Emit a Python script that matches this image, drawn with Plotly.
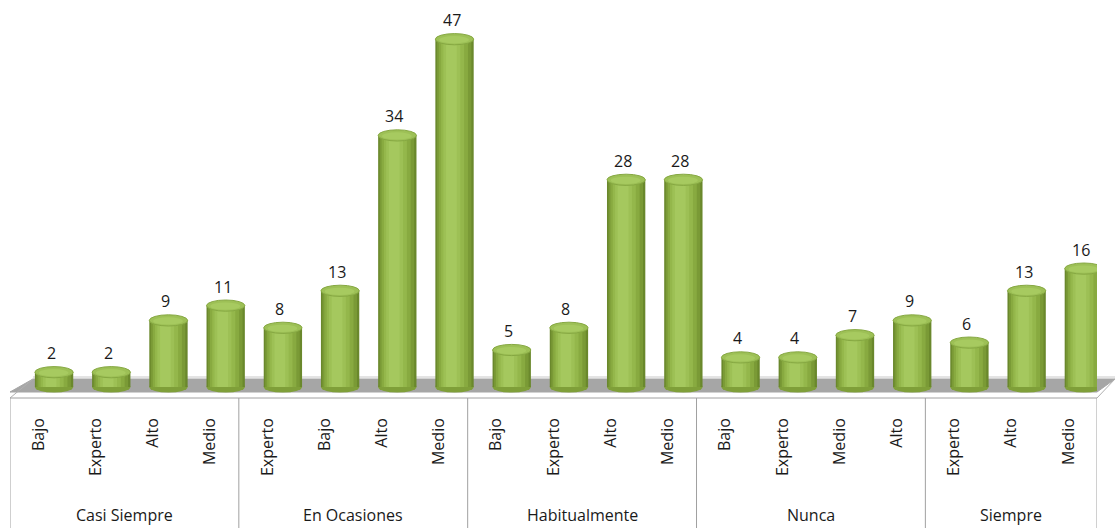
import plotly.graph_objects as go

# ---- data ----
group_names = ["Casi Siempre", "En Ocasiones", "Habitualmente", "Nunca", "Siempre"]
group_sizes = [4, 4, 4, 4, 3]
level_labels = ["Bajo", "Experto", "Alto", "Medio",
                "Experto", "Bajo", "Alto", "Medio",
                "Bajo", "Experto", "Alto", "Medio",
                "Bajo", "Experto", "Medio", "Alto",
                "Experto", "Alto", "Medio"]
values = [2, 2, 9, 11,
          8, 13, 34, 47,
          5, 8, 28, 28,
          4, 4, 7, 9,
          6, 13, 16]

# ---- geometry / style ----
W, H = 1116, 528
ML, MR, MT, MB = 10, 19, 0, 130
PX_PER_UNIT = 7.4
ZERO_PX = 387
plot_w = W - ML - MR
plot_h = H - MT - MB
plot_bottom = H - MB
y_lo = -(plot_bottom - ZERO_PX) / PX_PER_UNIT
y_hi = (ZERO_PX - MT) / PX_PER_UNIT
n = len(values)
xs = list(range(n))
BAR_SHIFT = 0.27
BAR_W = 0.67
bx = [x + BAR_SHIFT for x in xs]
FONT = "Open Sans"
TXT = "#1a1a1a"


def px(xp, yp):
    """pixel -> paper coords"""
    return (xp - ML) / plot_w, (plot_bottom - yp) / plot_h


fig = go.Figure()

# layered bars for cylinder shading (dark edges -> light centre-left)
layers = [
    (1.00, 0.00, "#6a882c"),
    (0.90, -0.01, "#7a9a36"),
    (0.76, -0.03, "#88aa40"),
    (0.60, -0.05, "#94b74b"),
    (0.44, -0.07, "#9dc055"),
    (0.28, -0.08, "#a5c85e"),
]
for frac, off, col in layers:
    w = BAR_W * frac
    fig.add_trace(go.Bar(
        x=bx, y=values, width=[w] * n, offset=[-w / 2 + off * BAR_W] * n,
        marker=dict(color=col, line=dict(width=0)),
        hoverinfo="skip", showlegend=False))

shapes = []
# floor (grey slab)
p = [px(10, 392), px(1097, 392), px(1115, 379), px(33, 379)]
path = "M {} {} L {} {} L {} {} L {} {} Z".format(*[c for pt in p for c in pt])
shapes.append(dict(type="path", path=path, xref="paper", yref="paper",
                   fillcolor="#a6a6a6", line=dict(color="#a6a6a6", width=1), layer="below"))
# back edge line
a, b = px(33, 377), px(1115, 377)
shapes.append(dict(type="line", xref="paper", yref="paper", x0=a[0], y0=a[1], x1=b[0], y1=b[1],
                   line=dict(color="#c8c8c8", width=1), layer="below"))
# diagonals of the floor slab
for (xa, ya), (xb, yb) in [((10, 398), (33, 379)), ((1097, 398), (1115, 379))]:
    a, b = px(xa, ya), px(xb, yb)
    shapes.append(dict(type="line", xref="paper", yref="paper", x0=a[0], y0=a[1], x1=b[0], y1=b[1],
                       line=dict(color="#b0b0b0", width=1)))

# category box
a, b = px(10, 398), px(1097, 398)
shapes.append(dict(type="line", xref="paper", yref="paper", x0=a[0], y0=a[1], x1=b[0], y1=b[1],
                   line=dict(color="#a0a0a0", width=1)))
bounds = [-0.5]
for s in group_sizes:
    bounds.append(bounds[-1] + s)
for bd in bounds:
    shapes.append(dict(type="line", xref="x", yref="paper", x0=bd, x1=bd,
                       y0=0, y1=-(H - plot_bottom) / plot_h,
                       line=dict(color="#a0a0a0", width=1)))

# cylinder bottoms and tops
EX = BAR_W / 2
EY = 5.6 / PX_PER_UNIT
for x, v in zip(bx, values):
    shapes.append(dict(type="circle", xref="x", yref="y", x0=x - EX, x1=x + EX,
                       y0=-EY, y1=EY, fillcolor="#7f9f39", line=dict(width=0), layer="below"))
for x, v in zip(bx, values):
    shapes.append(dict(type="circle", xref="x", yref="y", x0=x - EX, x1=x + EX,
                       y0=v - EY, y1=v + EY, fillcolor="#9dc056",
                       line=dict(color="#86a842", width=1)))
    shapes.append(dict(type="circle", xref="x", yref="y", x0=x - EX * 0.8, x1=x + EX * 0.75,
                       y0=v - EY * 0.75, y1=v + EY * 0.55, fillcolor="#a7ca60",
                       line=dict(width=0)))

annotations = []
for x, v in zip(bx, values):
    annotations.append(dict(x=x, y=v, text=str(v), showarrow=False, yanchor="bottom",
                            yshift=6, xshift=-3, font=dict(family=FONT, size=16, color=TXT)))
start = 0
for g, s in zip(group_names, group_sizes):
    cx = start + (s - 1) / 2
    annotations.append(dict(x=cx, y=-(515 - plot_bottom) / plot_h, xref="x", yref="paper",
                            text=g, showarrow=False, yanchor="middle",
                            font=dict(family=FONT, size=16, color=TXT)))
    start += s

fig.update_layout(
    width=W, height=H, barmode="overlay",
    margin=dict(l=ML, r=MR, t=MT, b=MB, autoexpand=False),
    paper_bgcolor="white", plot_bgcolor="rgba(0,0,0,0)",
    shapes=shapes, annotations=annotations, showlegend=False,
    xaxis=dict(range=[-0.5, n - 0.5], tickmode="array", tickvals=xs, ticktext=level_labels,
               tickangle=-90, showgrid=False, zeroline=False, showline=False, ticks="",
               automargin=False,
               ticklabelstandoff=16, tickfont=dict(family=FONT, size=16, color=TXT)),
    yaxis=dict(range=[y_lo, y_hi], visible=False, showgrid=False, zeroline=False,
               automargin=False),
)

fig.write_html("out.html", config={"displayModeBar": False},
               post_script="document.body.style.margin='0';document.body.style.overflow='hidden';")
